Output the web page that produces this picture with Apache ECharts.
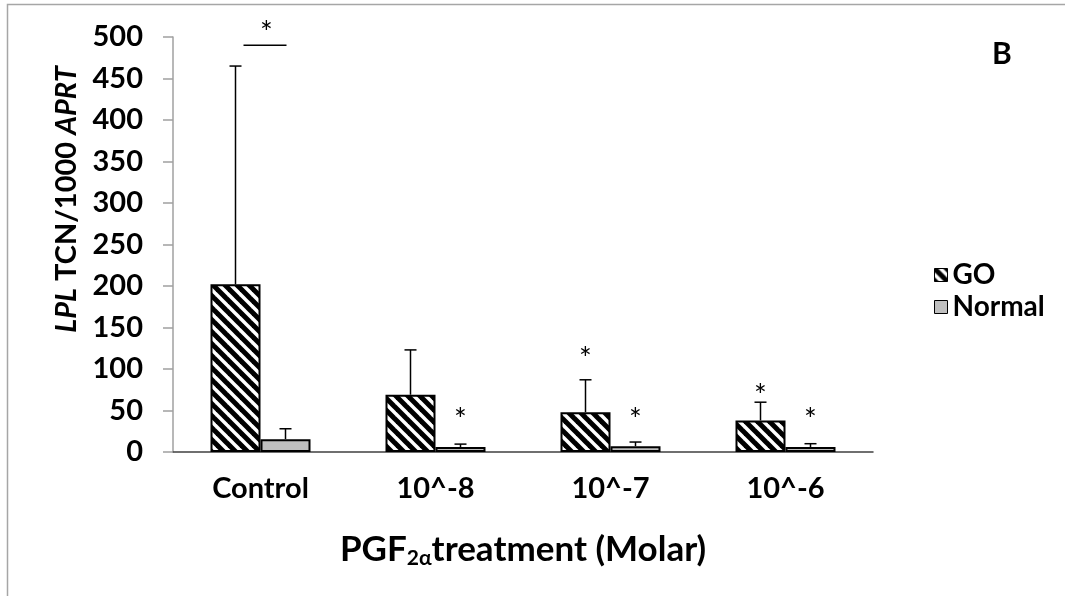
<!DOCTYPE html>
<html>
<head>
<meta charset="utf-8">
<script src="https://cdn.jsdelivr.net/npm/echarts@6/dist/echarts.min.js"></script>
<style>
html,body{margin:0;padding:0;background:#fff;}
#chart{width:1065px;height:596px;}
</style>
</head>
<body>
<div id="chart"></div>
<script>
// data
var categories = ['Control', '10^-8', '10^-7', '10^-6'];
var goMean = [202, 69, 48, 38];
var goUpper = [465, 123, 87, 60];
var normalMean = [15.5, 6, 7, 6];
var normalUpper = [28, 9.5, 12, 10];
// asterisk heights (value units), null = none
var goStar = [null, null, 120, 75];
var normalStar = [null, 46, 46, 46];
// Control: GO vs Normal bracket
var bracket = [[0, 490]];

var FONT = 'Lato';

// diagonal hatch for GO bars
function makeHatch() {
	var c = document.createElement('canvas');
	c.width = 12; c.height = 12;
	var ctx = c.getContext('2d');
	ctx.fillStyle = '#fff';
	ctx.fillRect(0, 0, 12, 12);
	ctx.strokeStyle = '#000';
	ctx.lineWidth = 5;
	for (var k = -12; k <= 12; k += 12) {
		ctx.beginPath();
		ctx.moveTo(k - 3, -3);
		ctx.lineTo(k + 15, 15);
		ctx.stroke();
	}
	return c;
}
var hatch = { image: makeHatch(), repeat: 'repeat' };

function pairs(a, b) {
	var out = [];
	for (var i = 0; i < a.length; i++) out.push([i, a[i], b[i]]);
	return out;
}
function starData(a) {
	var out = [];
	for (var i = 0; i < a.length; i++) if (a[i] != null) out.push([i, a[i]]);
	return out;
}

// error bar (upper half only)
function errRender(offset) {
	return function (params, api) {
		var i = api.value(0);
		var base = api.coord([i, api.value(1)]);
		var top = api.coord([i, api.value(2)]);
		var x = base[0] + offset;
		return {
			type: 'group',
			children: [
				{ type: 'line', shape: { x1: x, y1: base[1], x2: x, y2: top[1] }, style: { stroke: '#000', lineWidth: 1.5 } },
				{ type: 'line', shape: { x1: x - 6, y1: top[1], x2: x + 6, y2: top[1] }, style: { stroke: '#000', lineWidth: 1.5 } }
			]
		};
	};
}

var starStyle = { text: '*', fontSize: 30, fontFamily: FONT, fill: '#000', align: 'center', verticalAlign: 'middle' };

function starRender(offset) {
	return function (params, api) {
		var p = api.coord([api.value(0), api.value(1)]);
		return { type: 'text', x: p[0] + offset, y: p[1] + 7, style: starStyle };
	};
}

function bracketRender(params, api) {
	var p = api.coord([api.value(0), api.value(1)]);
	return {
		type: 'group',
		children: [
			{ type: 'line', shape: { x1: p[0] - 17, y1: p[1], x2: p[0] + 26, y2: p[1] }, style: { stroke: '#000', lineWidth: 1.5 } },
			{ type: 'text', x: p[0] + 6, y: p[1] - 12, style: starStyle }
		]
	};
}

var chart = echarts.init(document.getElementById('chart'));
chart.setOption({
	animation: false,
	backgroundColor: '#fff',
	grid: { left: 173, right: 192, top: 37, bottom: 144, containLabel: false, outerBoundsMode: 'none' },
	graphic: [
		{ type: 'rect', shape: { x: 7.5, y: 4.5, width: 1200, height: 800 }, style: { fill: 'none', stroke: '#a6a6a6', lineWidth: 1.5 }, silent: true },
		{ type: 'text', left: 992, top: 39, style: { text: 'B', fontSize: 30, fontWeight: 'bold', fontFamily: FONT, fill: '#000' } }
	],
	legend: {
		data: ['GO', 'Normal'],
		orient: 'vertical',
		left: 929, top: 256,
		itemWidth: 13, itemHeight: 13, itemGap: 4,
		icon: 'rect',
		itemStyle: { borderColor: '#000', borderWidth: 1 },
		textStyle: { fontFamily: FONT, fontWeight: 'bold', fontSize: 28, color: '#000' }
	},
	xAxis: {
		type: 'category',
		data: categories,
		name: 'PGF{s|2α}treatment (Molar)',
		nameLocation: 'middle',
		nameGap: 78,
		nameTextStyle: {
			fontFamily: FONT, fontWeight: 'bold', fontSize: 35, color: '#000',
			rich: { s: { fontFamily: FONT, fontWeight: 'bold', fontSize: 21, color: '#000', verticalAlign: 'bottom', padding: [18, 0, 0, 0] } }
		},
		axisLine: { lineStyle: { color: '#404040', width: 1.5 } },
		axisTick: { length: 10, lineStyle: { color: '#000', width: 1.5 } },
		axisLabel: { margin: 22, fontFamily: FONT, fontWeight: 'bold', fontSize: 29, color: '#000' }
	},
	yAxis: {
		type: 'value',
		min: 0, max: 500, interval: 50,
		name: '{i|LPL} TCN/1000 {i|APRT}',
		nameLocation: 'middle',
		nameRotate: 90,
		nameGap: 92,
		nameTextStyle: {
			fontFamily: FONT, fontWeight: 'bold', fontSize: 29, color: '#000',
			padding: [0, 0, 0, 90],
			rich: { i: { fontFamily: FONT, fontWeight: 'bold', fontStyle: 'italic', fontSize: 29, color: '#000' } }
		},
		axisLine: { show: true, lineStyle: { color: '#a0a0a0', width: 1.5 } },
		axisTick: { show: true, length: 10, lineStyle: { color: '#a0a0a0', width: 1.5 } },
		splitLine: { show: false },
		axisLabel: { margin: 30, fontFamily: FONT, fontWeight: 'bold', fontSize: 29, color: '#000' }
	},
	series: [
		{
			name: 'GO', type: 'bar', data: goMean, barWidth: 50, barGap: '0%',
			itemStyle: { color: hatch, borderColor: '#000', borderWidth: 2 }
		},
		{
			name: 'Normal', type: 'bar', data: normalMean, barWidth: 50,
			itemStyle: { color: '#bfbfbf', borderColor: '#000', borderWidth: 2 }
		},
		{ type: 'custom', name: 'goErr', data: pairs(goMean, goUpper), renderItem: errRender(-25), z: 3 },
		{ type: 'custom', name: 'normalErr', data: pairs(normalMean, normalUpper), renderItem: errRender(25), z: 3 },
		{ type: 'custom', name: 'goStar', data: starData(goStar), renderItem: starRender(-25), z: 3 },
		{ type: 'custom', name: 'normalStar', data: starData(normalStar), renderItem: starRender(25), z: 3 },
		{ type: 'custom', name: 'bracket', data: bracket, renderItem: bracketRender, clip: false, z: 3 }
	]
});
</script>
</body>
</html>
